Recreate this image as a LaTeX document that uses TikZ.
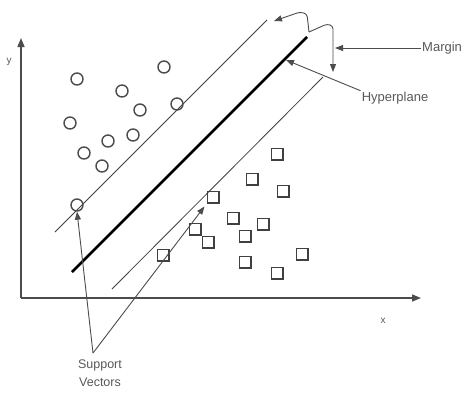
\documentclass[tikz,border=0pt]{standalone}
\usepackage{fontspec}
\setmainfont{Liberation Sans}
\usetikzlibrary{arrows.meta}
\begin{document}
\begin{tikzpicture}[x=1pt,y=-1pt,
  axis/.style={draw=black!70,line width=1.5pt,-{Triangle[length=9pt,width=7pt]}},
  ptc/.style={circle,draw=black!70,line width=1.4pt,minimum size=12pt,inner sep=0pt},
  pts/.style={rectangle,draw=black!75,line width=1.5pt,minimum size=11.5pt,inner sep=0pt},
  margline/.style={draw=black!75,line width=0.8pt},
  hyper/.style={draw=black,line width=2.6pt},
  note/.style={draw=black!70,line width=0.9pt,-{Triangle[length=8pt,width=6pt]}},
  lbl/.style={text=black!65,font=\fontsize{13}{15}\selectfont,inner sep=1pt},
  axlbl/.style={text=black!65,font=\fontsize{10}{12}\selectfont,inner sep=0pt}]
\useasboundingbox[fill=white] (0,0) rectangle (470,392);

% axes
\coordinate (o) at (21,298);
\coordinate (ytip) at (21,38);
\coordinate (xtip) at (421,298);
\draw[axis] (o) -- (ytip);
\draw[axis] (o) -- (xtip);
\node[axlbl] (ylab) at (9,62) {y};
\node[axlbl] (xlab) at (383,321) {x};

% hyperplane and margin lines
\coordinate (h1) at (72,272);  \coordinate (h2) at (307,37);
\coordinate (u1) at (55,232);  \coordinate (u2) at (267,20);
\coordinate (l1) at (112,289); \coordinate (l2) at (323,77);
\draw[hyper] (h1) -- (h2);
\draw[margline] (u1) -- (u2);
\draw[margline] (l1) -- (l2);

% class one
\foreach \n/\p in {c1/{(77,79)},c2/{(122,91)},c3/{(164,67)},c4/{(140,110)},
  c5/{(177,104)},c6/{(70,123)},c7/{(133,135)},c8/{(108,141)},c9/{(84,153)},
  c10/{(102,166)},c11/{(77,205)}}
  \node[ptc] (\n) at \p {};

% class two
\foreach \n/\p in {s1/{(277,154)},s2/{(252,179)},s3/{(283,191)},s4/{(213,197)},
  s5/{(195,229)},s6/{(233,218)},s7/{(263,224)},s8/{(208,242)},s9/{(245,236)},
  s10/{(163,255)},s11/{(245,262)},s12/{(302,254)},s13/{(277,273)}}
  \node[pts] (\n) at \p {};

% margin annotation
\node[lbl,anchor=west] (margin) at (421,48) {Margin};
\coordinate (mtip) at (335,48);
\draw[note] (margin.west) -- (mtip);
\coordinate (kink) at (309,32);
\coordinate (bl) at (274,21);
\coordinate (br) at (333,72);
\draw[note,rounded corners=3pt] (kink) -- (307,14) -- (300,12) -- (bl);
\draw[note,rounded corners=3pt] (kink) -- (327,24) -- (333,26) -- (br);

% hyperplane annotation
\node[lbl] (hyp) at (395,98) {Hyperplane};
\coordinate (htip) at (286,60);
\draw[note] (hyp.north west) -- (htip);

% support vectors annotation
\node[lbl,align=center,font=\fontsize{12.5}{18}\selectfont] (sv) at (100,373) {Support\\Vectors};
\coordinate (apex) at (93,353);
\draw[note] (apex) -- (c11.south);
\draw[note] (apex) -- ([xshift=-2pt,yshift=-3pt]s4.south west);
\end{tikzpicture}
\end{document}
